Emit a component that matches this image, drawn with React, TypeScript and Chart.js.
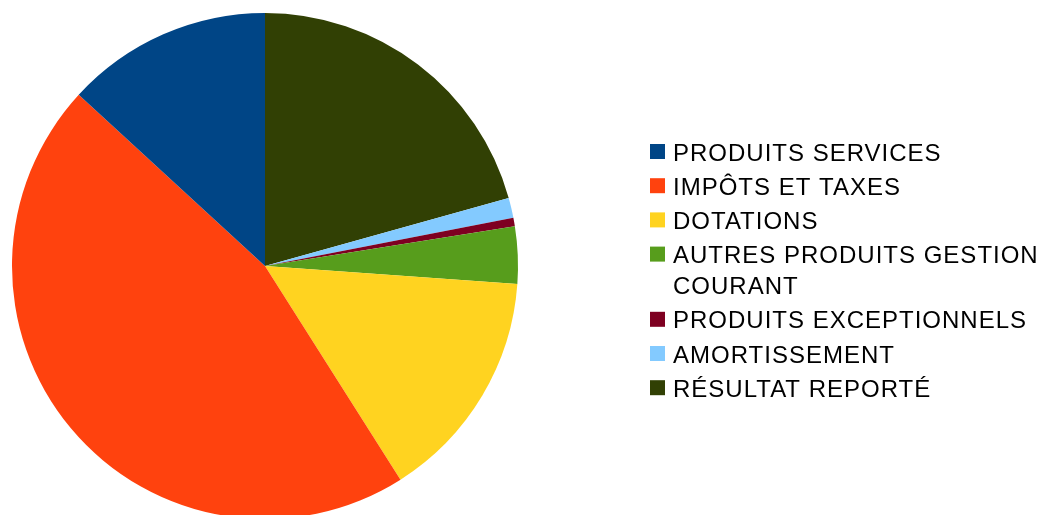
import React, { useEffect, useRef } from "react";
import { Chart, registerables } from "chart.js";

Chart.register(...registerables);

const categories: (string | string[])[] = [
  "PRODUITS SERVICES",
  "IMPÔTS ET TAXES",
  "DOTATIONS",
  ["AUTRES PRODUITS GESTION", "COURANT"],
  "PRODUITS EXCEPTIONNELS",
  "AMORTISSEMENT",
  "RÉSULTAT REPORTÉ",
];
const values: number[] = [13.17, 45.83, 14.87, 3.65, 0.54, 1.28, 20.67];
const colors: string[] = [
  "#004586",
  "#ff420e",
  "#ffd320",
  "#579d1c",
  "#7e0021",
  "#83caff",
  "#314004",
];

const FONT = '24px "Liberation Sans", Arial, sans-serif';

const legendPlugin = {
  id: "customLegend",
  afterDraw(chart: any) {
    const ctx = chart.ctx as CanvasRenderingContext2D;
    ctx.save();
    ctx.font = FONT;
    (ctx as any).letterSpacing = "1px";
    ctx.textBaseline = "alphabetic";
    ctx.textAlign = "left";
    let y = 144;
    const pitch = 34.2;
    const extraLine = 31;
    categories.forEach((label, i) => {
      ctx.fillStyle = colors[i];
      ctx.fillRect(650, y, 15, 15);
      ctx.fillStyle = "#000000";
      const lines = Array.isArray(label) ? label : [label];
      lines.forEach((line, j) => {
        ctx.fillText(line, 673, y + 16.5 + j * extraLine);
      });
      y += pitch + (lines.length - 1) * extraLine;
    });
    ctx.restore();
  },
};

export default function App() {
  const ref = useRef<HTMLCanvasElement | null>(null);
  useEffect(() => {
    if (!ref.current) return;
    const rev = <T,>(a: T[]) => a.slice().reverse();
    const chart = new Chart(ref.current, {
      type: "pie",
      data: {
        labels: rev(categories) as any,
        datasets: [
          {
            data: rev(values),
            backgroundColor: rev(colors),
            borderWidth: 0,
            hoverOffset: 0,
            offset: 0,
          },
        ],
      },
      options: {
        animation: false,
        responsive: true,
        maintainAspectRatio: false,
        layout: { padding: { left: 12, right: 530, top: 13, bottom: 13 } },
        plugins: {
          legend: { display: false },
          tooltip: { enabled: false },
        },
      },
      plugins: [legendPlugin],
    });
    return () => chart.destroy();
  }, []);
  return (
    <div
      style={{
        position: "fixed",
        left: 0,
        top: 0,
        width: 1048,
        height: 515,
        overflow: "hidden",
        background: "#ffffff",
      }}
    >
      <div style={{ position: "relative", width: 1048, height: 532 }}>
        <canvas ref={ref} />
      </div>
    </div>
  );
}
